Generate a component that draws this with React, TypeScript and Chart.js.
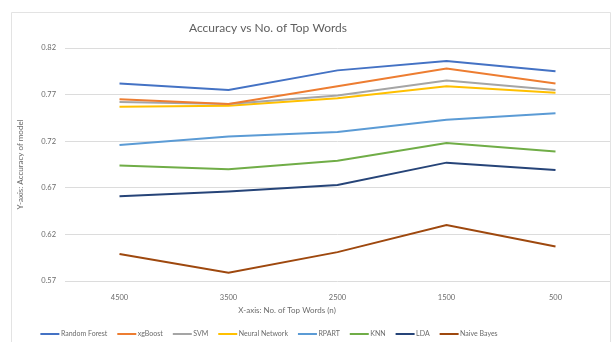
import { useEffect, useRef } from "react";
import { Chart, registerables } from "chart.js";

Chart.register(...registerables);

// Vocabulary sizes (number of top words kept), in the order they were tested
const wordCounts = ["4500", "3500", "2500", "1500", "500"];

// Model accuracy for each vocabulary size
const randomForest = [0.782, 0.775, 0.796, 0.806, 0.795];
const xgBoost = [0.765, 0.76, 0.779, 0.798, 0.782];
const svm = [0.762, 0.76, 0.769, 0.785, 0.775];
const neuralNetwork = [0.757, 0.758, 0.766, 0.779, 0.772];
const rpart = [0.716, 0.725, 0.73, 0.743, 0.75];
const knn = [0.694, 0.69, 0.699, 0.718, 0.709];
const lda = [0.661, 0.666, 0.673, 0.697, 0.689];
const naiveBayes = [0.599, 0.579, 0.601, 0.63, 0.607];

const modelNames = [
  "Random Forest",
  "xgBoost",
  "SVM",
  "Neural Network",
  "RPART",
  "KNN",
  "LDA",
  "Naive Bayes",
];
const modelSeries = [randomForest, xgBoost, svm, neuralNetwork, rpart, knn, lda, naiveBayes];
const modelColors = [
  "#4472C4",
  "#ED7D31",
  "#A5A5A5",
  "#FFC000",
  "#5B9BD5",
  "#70AD47",
  "#264478",
  "#9E480E",
];

// Y axis range and tick step
const yMin = 0.57;
const yMax = 0.82;
const yStep = 0.05;

const chartTitle = "Accuracy vs No. of Top Words";
const xAxisTitle = "X-axis: No. of Top Words (n)";
const yAxisTitle = "Y-axis: Accuracy of model";

const FONT = "Lato, 'Open Sans', sans-serif";
const TEXT = "#6b6b6b";

// Frame, title, x-axis caption and the line legend drawn onto the canvas
const decorations = {
  id: "decorations",
  beforeDraw(chart: Chart) {
    const { ctx, width, height } = chart;
    ctx.save();
    ctx.fillStyle = "#ffffff";
    ctx.fillRect(0, 0, width, height);
    ctx.strokeStyle = "#e3e3e3";
    ctx.lineWidth = 1;
    ctx.beginPath();
    ctx.moveTo(11.5, height + 2);
    ctx.lineTo(11.5, 12.5);
    ctx.lineTo(610.5, 12.5);
    ctx.lineTo(610.5, height + 2);
    ctx.stroke();
    ctx.restore();
  },
  afterDraw(chart: Chart) {
    const { ctx } = chart;
    ctx.save();
    ctx.textBaseline = "middle";
    ctx.fillStyle = "#5f5f5f";
    ctx.textAlign = "center";
    ctx.font = `12px ${FONT}`;
    ctx.fillText(chartTitle, 268, 28);

    ctx.fillStyle = TEXT;
    ctx.font = `8px ${FONT}`;
    ctx.fillText(xAxisTitle, 287, 310);

    // legend: short line swatch followed by the series name
    ctx.font = `7px ${FONT}`;
    ctx.textAlign = "left";
    const swatch = 19;
    const gap = 1.5;
    const spacing = 10;
    const widths = modelNames.map((n) => swatch + gap + ctx.measureText(n).width);
    const total = widths.reduce((a, b) => a + b, 0) + spacing * (widths.length - 1);
    let x = 269 - total / 2;
    const y = 334;
    modelNames.forEach((name, i) => {
      ctx.strokeStyle = modelColors[i];
      ctx.lineWidth = 2;
      ctx.beginPath();
      ctx.moveTo(x, y);
      ctx.lineTo(x + swatch, y);
      ctx.stroke();
      ctx.fillStyle = TEXT;
      ctx.fillText(name, x + swatch + gap, y);
      x += widths[i] + spacing;
    });
    ctx.restore();
  },
};

export default function App() {
  const canvasRef = useRef<HTMLCanvasElement | null>(null);

  useEffect(() => {
    document.body.style.margin = "0";
    const canvas = canvasRef.current;
    if (!canvas) return;
    const chart = new Chart(canvas, {
      type: "line",
      data: {
        labels: wordCounts,
        datasets: modelNames.map((name, i) => ({
          label: name,
          data: modelSeries[i],
          borderColor: modelColors[i],
          backgroundColor: modelColors[i],
          borderWidth: 2,
          pointRadius: 0,
          tension: 0,
        })),
      },
      options: {
        responsive: false,
        animation: false,
        devicePixelRatio: 1,
        layout: { padding: { left: 11, right: 4, top: 48, bottom: 31 } },
        plugins: {
          legend: { display: false },
          title: { display: false },
          tooltip: { enabled: false },
        },
        scales: {
          x: {
            offset: true,
            grid: { display: false },
            border: { display: false },
            ticks: {
              color: TEXT,
              font: { family: FONT, size: 7.5 },
              padding: 4,
              maxRotation: 0,
            },
            afterFit: (s: any) => {
              s.height = 30;
            },
          },
          y: {
            min: yMin,
            max: yMax,
            grid: { color: "#dcdcdc", lineWidth: 1, drawTicks: false },
            border: { display: false },
            ticks: {
              stepSize: yStep,
              color: TEXT,
              font: { family: FONT, size: 7.5 },
              padding: 9,
              callback: (v: any) => Number(v).toFixed(2),
            },
            title: {
              display: true,
              text: yAxisTitle,
              color: TEXT,
              font: { family: FONT, size: 8 },
              padding: { top: 5, bottom: 0 },
            },
            afterFit: (s: any) => {
              s.width = 54;
            },
          },
        },
      },
      plugins: [decorations],
    });
    return () => chart.destroy();
  }, []);

  return <canvas ref={canvasRef} width={614} height={342} style={{ display: "block" }} />;
}
